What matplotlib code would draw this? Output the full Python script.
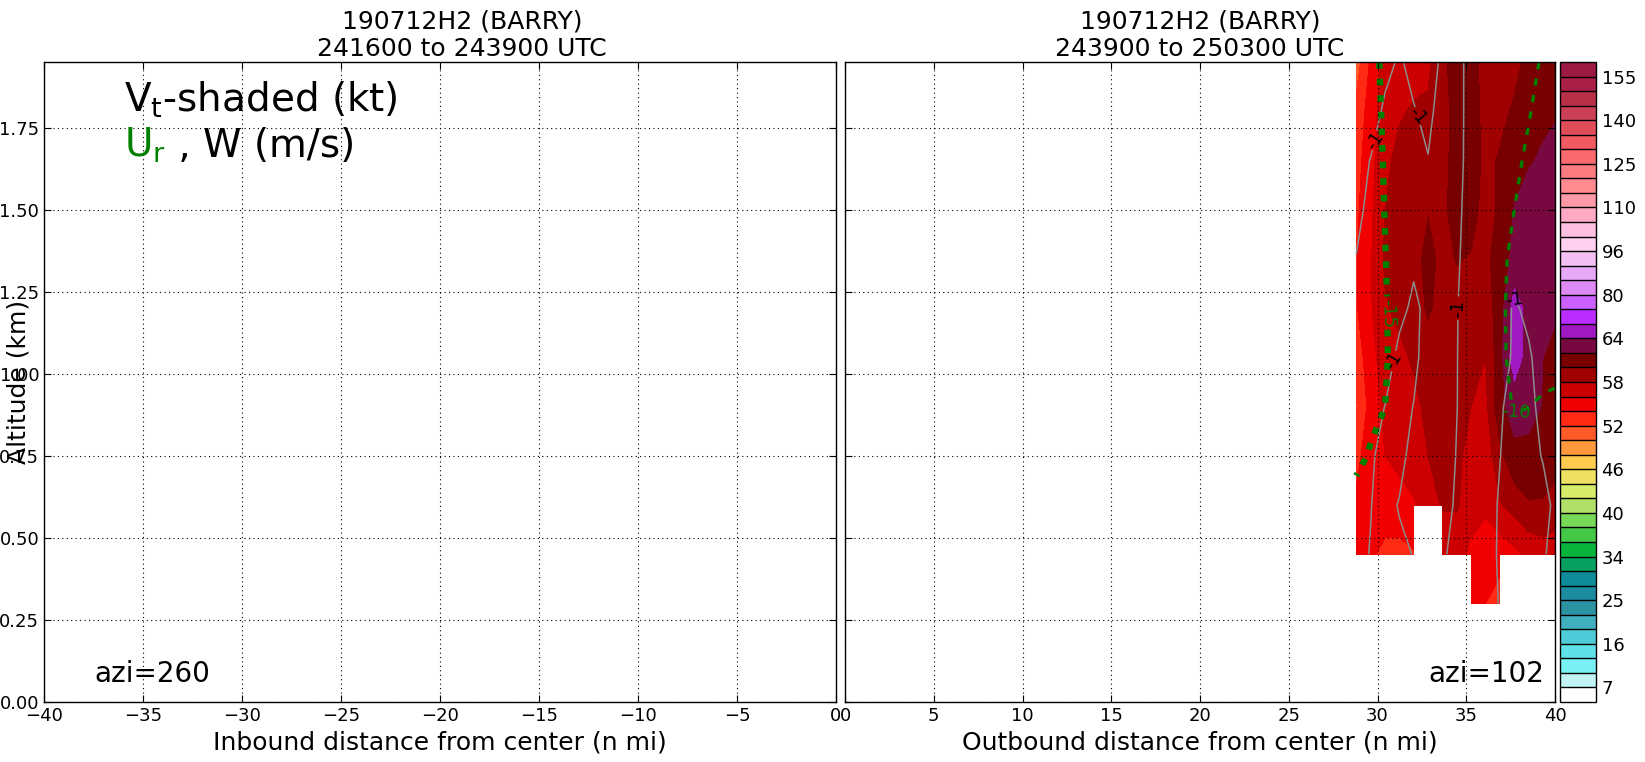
import numpy as np
import matplotlib
matplotlib.use("Agg")
import matplotlib.pyplot as plt
from matplotlib.ticker import FormatStrFormatter, MultipleLocator

nan = np.nan

# ---------------- data ----------------
TITLE_LEFT = "190712H2 (BARRY)\n241600 to 243900 UTC"
TITLE_RIGHT = "190712H2 (BARRY)\n243900 to 250300 UTC"
AZI_LEFT = "azi=260"
AZI_RIGHT = "azi=102"

# colour-bar levels (kt) and colours
VT_LEVELS = [4, 7, 10, 13, 16, 19, 22, 25, 28, 31, 34, 36, 38, 40, 42, 44, 46, 48, 50,
             52, 54, 56, 58, 60, 62, 64, 69, 75, 80, 85, 91, 96, 101, 106, 110, 115,
             120, 125, 130, 135, 140, 145, 150, 155, 160]
VT_COLORS = ["#ffffff", "#c0f4f4", "#78f0f4", "#60e0e8", "#50ccd8", "#40b0c0", "#2a92a0",
             "#1c8ca0", "#108c98", "#08a060", "#08b43c", "#44c848", "#78d858", "#b0e068",
             "#d8ec6c", "#eee060", "#ffcc50", "#ff9a3c", "#ff5a28", "#ff2a14", "#f00000",
             "#cc0000", "#a00000", "#780000", "#780840", "#a018c0", "#bb2cff", "#cc60ff",
             "#dd88f4", "#e8a8f8", "#f4c0f4", "#ffd0f0", "#ffbfe0", "#ffaac4", "#ff9aa8",
             "#ff8a90", "#fb7c80", "#f86a6e", "#f05a60", "#e04c58", "#cc4055", "#b83048",
             "#a82045", "#9b1b45"]
CBAR_TICKS = [7, 16, 25, 34, 40, 46, 52, 58, 64, 80, 96, 110, 125, 140, 155]

# grid of the outbound leg
X_NODES = [28.8, 29.61, 30.42, 31.23, 32.04, 32.85, 33.66, 34.47, 35.28, 36.09,
           36.9, 37.71, 38.52, 39.33, 40.14]
Z_NODES = [0.30, 0.45, 0.60, 0.75, 0.90, 1.05, 1.20, 1.35, 1.50, 1.65, 1.80, 1.95]

# tangential wind Vt (kt), rows = Z_NODES
VT_ROWS = [
    [nan, nan, nan, nan, nan, nan, nan, nan, 54.5, 54.0, 53.0, nan, nan, nan, nan],
    [54.5, 54.3, 53.5, 53.3, 53.8, nan, 56.5, 56.8, 55.5, 54.5, 54.8, 55.5, 56.5, 57.0, 57.0],
    [54.3, 55.0, 55.0, 55.3, 55.8, 57.0, 58.2, 58.2, 57.0, 56.5, 57.8, 58.8, 59.8, 59.8, 59.0],
    [53.5, 55.0, 56.0, 56.5, 57.0, 58.0, 58.6, 58.5, 57.2, 56.8, 59.5, 61.5, 61.5, 61.2, 60.8],
    [51.8, 54.8, 56.5, 57.0, 57.5, 58.5, 59.2, 59.0, 58.0, 57.5, 61.5, 62.8, 62.6, 61.9, 60.8],
    [52.8, 55.3, 57.0, 57.5, 58.3, 59.3, 59.3, 59.2, 58.5, 58.0, 61.3, 65.2, 63.0, 62.0, 61.3],
    [53.8, 55.8, 57.8, 58.5, 59.3, 60.2, 59.5, 59.3, 59.2, 59.0, 61.0, 65.0, 63.3, 62.8, 62.2],
    [53.8, 55.8, 58.3, 59.0, 59.3, 60.6, 59.5, 60.1, 59.9, 59.5, 61.0, 62.5, 63.0, 63.0, 62.8],
    [53.6, 55.6, 58.0, 59.0, 59.2, 59.9, 59.5, 61.0, 60.5, 59.5, 60.2, 62.1, 63.0, 63.0, 63.0],
    [53.2, 55.3, 57.6, 58.5, 59.0, 59.0, 59.2, 61.0, 61.0, 59.5, 60.2, 61.2, 61.8, 62.3, 63.0],
    [52.5, 55.0, 57.2, 57.8, 58.2, 58.3, 59.0, 61.0, 61.0, 59.3, 59.5, 60.3, 61.0, 61.5, 61.8],
    [51.0, 54.3, 56.8, 57.2, 57.3, 57.6, 59.5, 61.0, 61.0, 59.0, 59.0, 59.4, 60.6, 61.0, 61.3],
]

# vertical velocity W (m/s)
W_ROWS = [
    [nan, nan, nan, nan, nan, nan, nan, nan, -0.5, -0.5, -1.07, nan, nan, nan, nan],
    [-1.32, -0.95, -0.5, -0.7, -1.05, nan, -1.21, -0.5, -0.5, -0.39, -1.2, -1.5, -1.5, -1.1, -0.62],
    [-1.5, -1.04, -0.5, -1.1, -1.5, -1.5, -1.53, -0.8, -0.5, -0.6, -1.1, -1.5, -1.5, -1.5, -0.54],
    [-1.5, -1.21, -0.5, -0.5, -1.59, -1.5, -1.53, -0.95, -0.5, -0.5, -0.98, -1.5, -1.52, -0.9, -0.5],
    [-1.5, -1.5, -0.98, -0.4, -1.05, -1.5, -1.5, -1.02, -0.4, -0.5, -0.84, -1.5, -1.4, -0.55, -0.5],
    [-1.4, -1.5, -1.76, -0.6, -0.6, -1.76, -1.5, -1.03, -0.4, -0.5, -0.15, -1.3, -1.1, -0.65, -0.5],
    [-1.3, -1.5, -1.5, -1.41, -0.7, -1.38, -1.5, -1.05, -0.4, -0.5, -0.6, -1.1, -0.82, -0.5, -0.5],
    [-1.03, -1.5, -1.5, -1.5, -1.26, -1.5, -1.5, -1.17, -0.4, -0.5, -0.6, -0.5, -0.5, -0.5, -0.5],
    [-0.7, -1.3, -1.5, -1.5, -1.5, -1.5, -1.5, -1.3, -0.43, -0.5, -0.5, -0.5, -0.5, -0.5, -0.5],
    [-0.4, -1.05, -1.5, -1.5, -1.5, -1.06, -1.5, -1.5, -0.4, -0.5, -0.5, -0.5, -0.5, -0.5, -0.5],
    [0.0, -0.2, -1.3, -1.5, -1.1, -0.6, -1.68, -1.5, -0.45, -0.5, -0.5, -0.5, -0.5, -0.5, -0.5],
    [-0.4, -0.5, -0.5, -1.2, -0.5, -0.5, -1.2, -1.5, -0.45, -0.5, -0.5, -0.5, -0.5, -0.5, -0.5],
]
W_LEVELS = [-1]

# radial wind Ur (m/s)
U_ROWS = [
    [nan, nan, nan, nan, nan, nan, nan, nan, -12.5, -12.5, -12.5, nan, nan, nan, nan],
    [-12.5, -12.8, -13.0, -13.0, -13.0, nan, -12.5, -12.5, -12.5, -12.5, -12.5, -12.5, -12.5, -12.5, -12.5],
    [-12.9, -13.0, -13.5, -13.5, -13.0, -12.5, -12.5, -12.5, -12.5, -12.5, -12.5, -12.5, -12.5, -12.5, -12.5],
    [-16.42, -14.5, -13.5, -13.0, -12.5, -12.5, -12.5, -12.5, -12.5, -12.5, -12.0, -12.0, -12.0, -12.0, -12.0],
    [-17.0, -16.5, -15.02, -13.5, -12.5, -12.5, -12.5, -12.5, -12.5, -12.5, -11.5, -9.7, -9.95, -10.8, -11.0],
    [-17.0, -16.5, -15.375, -13.5, -12.5, -12.5, -12.5, -12.5, -12.5, -12.5, -11.0, -8.67, -8.5, -7.8, -8.5],
    [-17.0, -16.5, -15.29, -13.5, -12.5, -12.5, -12.5, -12.5, -12.5, -12.5, -11.0, -8.3, -8.0, -8.0, -8.0],
    [-17.0, -16.5, -15.1, -13.5, -12.5, -12.5, -12.5, -12.5, -12.5, -12.5, -11.0, -8.98, -8.0, -8.0, -8.0],
    [-17.0, -16.5, -14.92, -13.0, -12.5, -12.5, -12.5, -12.5, -12.5, -12.5, -12.0, -9.98, -8.5, -8.0, -8.0],
    [-17.0, -16.5, -14.74, -13.0, -12.5, -12.5, -12.5, -12.5, -12.5, -12.5, -12.5, -11.0, -9.16, -8.0, -8.0],
    [-17.0, -16.5, -14.44, -13.0, -12.5, -12.5, -12.5, -12.5, -12.5, -12.5, -12.5, -12.0, -10.3, -8.4, -8.0],
    [-17.0, -16.5, -14.0, -13.0, -12.5, -12.5, -12.5, -12.5, -12.5, -12.5, -12.5, -12.0, -11.5, -9.4, -9.0],
]
U_LEVELS = [-15, -10]

# ---------------- figure ----------------
plt.rcParams["font.family"] = ["DejaVu Sans"]
fig = plt.figure(figsize=(16.45, 7.62), dpi=100)
ax1 = fig.add_axes([0.0268, 0.0787, 0.4814, 0.8399])
ax2 = fig.add_axes([0.5137, 0.0787, 0.4316, 0.8399])
cax = fig.add_axes([0.9483, 0.0787, 0.0219, 0.8399])

X, Z = np.meshgrid(X_NODES, Z_NODES)
VT = np.ma.masked_invalid(np.array(VT_ROWS))
W = np.ma.masked_invalid(np.array(W_ROWS))
U = np.ma.masked_invalid(np.array(U_ROWS))

cf = ax2.contourf(X, Z, VT, levels=VT_LEVELS, colors=VT_COLORS, corner_mask=False)

cw = ax2.contour(X, Z, W, levels=W_LEVELS, colors="0.55", linewidths=1.1,
                 linestyles="solid", corner_mask=False)
ax2.clabel(cw, fmt="%d", fontsize=13, colors="k", inline=True,
           manual=[(29.75, 1.72), (32.3, 1.79), (34.5, 1.2), (30.9, 1.04), (37.75, 1.24)])

cu15 = ax2.contour(X, Z, U, levels=[U_LEVELS[0]], colors="green", linewidths=4.6,
                   linestyles=[(0, (1.05, 1.55))], corner_mask=False)
cu10 = ax2.contour(X, Z, U, levels=[U_LEVELS[1]], colors="green", linewidths=2.4,
                   linestyles=[(0, (2.2, 2.8))], corner_mask=False)
ax2.clabel(cu15, fmt="%d", fontsize=13, colors="green", inline=True,
           manual=[(30.52, 1.185)])
ax2.clabel(cu10, fmt="%d", fontsize=13, colors="green", inline=True,
           manual=[(37.84, 0.87)])

for ax in (ax1, ax2):
    ax.set_ylim(0, 1.95)
    ax.yaxis.set_major_locator(MultipleLocator(0.25))
    ax.xaxis.set_major_locator(MultipleLocator(5))
    ax.tick_params(direction="in", top=True, right=True, labelsize=13, length=5, width=0.8)
    ax.grid(True, color="k", linestyle=(0, (1, 3)), linewidth=0.8)
    ax.set_axisbelow(False)
    for s in ax.spines.values():
        s.set_linewidth(1.0)

ax1.set_xlim(-40, 0)
ax2.set_xlim(0, 40)
ax1.yaxis.set_major_formatter(FormatStrFormatter("%.2f"))
ax2.tick_params(labelleft=False)

ax1.set_title(TITLE_LEFT, fontsize=18, x=0.528, pad=4)
ax2.set_title(TITLE_RIGHT, fontsize=18, pad=4)
ax1.set_ylabel("Altitude (km)", fontsize=18)
ax1.yaxis.set_label_coords(-0.017, 0.5)
ax1.set_xlabel("Inbound distance from center (n mi)", fontsize=18)
ax2.set_xlabel("Outbound distance from center (n mi)", fontsize=18)

ax1.text(0.101, 0.922, r"V$_\mathrm{t}$-shaded (kt)", fontsize=28,
         transform=ax1.transAxes, va="baseline")
t1 = ax1.text(0.101, 0.852, r"U$_\mathrm{r}$", fontsize=28, color="green",
              transform=ax1.transAxes, va="baseline")
fig.canvas.draw()
bb = t1.get_window_extent()
xr = ax1.transAxes.inverted().transform((bb.x1, bb.y0))[0]
ax1.text(xr, 0.852, " , W (m/s)", fontsize=28, transform=ax1.transAxes, va="baseline")

ax1.text(0.064, 0.031, AZI_LEFT, fontsize=20, transform=ax1.transAxes, va="baseline")
ax2.text(0.985, 0.031, AZI_RIGHT, fontsize=20, transform=ax2.transAxes, va="baseline",
         ha="right")

cbar = fig.colorbar(cf, cax=cax, drawedges=True)
cbar.set_ticks(CBAR_TICKS, labels=[str(t) for t in CBAR_TICKS])
cbar.ax.tick_params(length=0, labelsize=13, pad=4)
cbar.dividers.set_color("k")
cbar.dividers.set_linewidth(1.0)
cbar.outline.set_linewidth(1.0)

fig.savefig("out.png", dpi=100)
